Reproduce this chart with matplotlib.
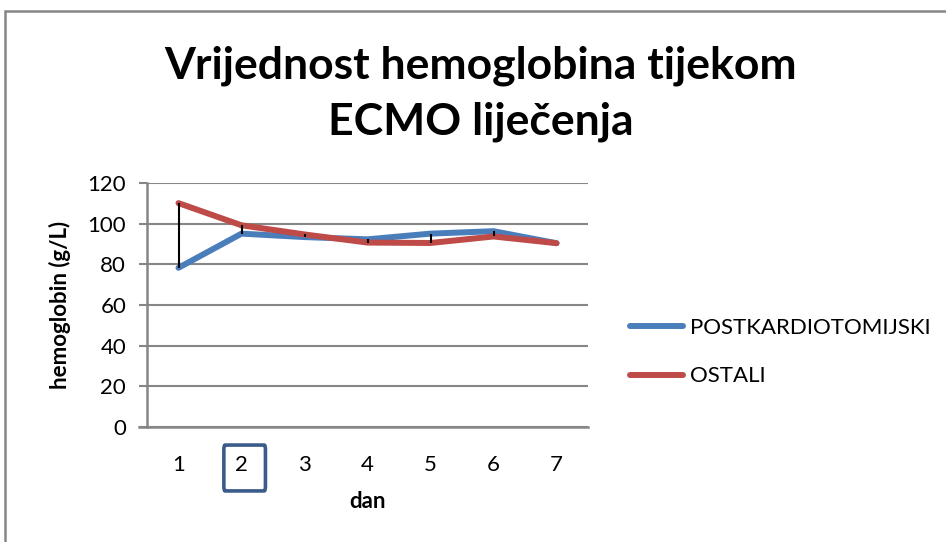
import matplotlib

matplotlib.use("Agg")
import matplotlib.pyplot as plt
from matplotlib.patches import FancyBboxPatch, Rectangle
import numpy as np

plt.rcParams["font.family"] = ["Lato", "DejaVu Sans"]

days = [1, 2, 3, 4, 5, 6, 7]
postkardio = [78.3, 95.1, 93.4, 92.3, 95.1, 96.3, 90.4]
ostali = [110.1, 99.2, 94.7, 90.7, 90.5, 93.7, 90.4]
yticks = [0, 20, 40, 60, 80, 100, 120]

blue = "#4a7ebb"
red = "#be4b48"
grid_col = "#868686"

fig = plt.figure(figsize=(9.46, 5.42), dpi=100)
ax = fig.add_axes([147 / 946, 1 - 427 / 542, 441 / 946, 244 / 542])

# chart frame (Excel chart area border)
fig.patches.append(Rectangle((5 / 946, -0.1), 1.2, 1 - 11 / 542 + 0.1,
                             transform=fig.transFigure, fill=False,
                             edgecolor=grid_col, lw=1.8))

ax.plot(days, postkardio, color=blue, lw=4.3, solid_capstyle="round",
        label="POSTKARDIOTOMIJSKI", zorder=3)
ax.plot(days, ostali, color=red, lw=4.3, solid_capstyle="round",
        label="OSTALI", zorder=3)

# high-low lines
lo = np.minimum(postkardio, ostali)
hi = np.maximum(postkardio, ostali)
ax.vlines(days, lo, hi, color="black", lw=1.5, zorder=4)

ax.set_xlim(0.5, 7.5)
ax.set_ylim(0, 120)
ax.set_yticks(yticks)
ax.set_xticks(days)
ax.set_xticklabels([str(d) for d in days])
ax.yaxis.grid(True, color=grid_col, lw=1.5)
ax.set_axisbelow(True)
for s in ["top", "right", "bottom"]:
    ax.spines[s].set_visible(False)
ax.spines["left"].set_color(grid_col)
ax.spines["left"].set_linewidth(1.8)
ax.tick_params(axis="y", length=6, width=1.5, color=grid_col, labelsize=16, pad=9)
ax.tick_params(axis="x", length=0, labelsize=16, pad=20)
ax.axhline(0, xmin=-8 / 441, xmax=1, color=grid_col, lw=1.8, clip_on=False)

ax.set_xlabel("dan", fontsize=16, fontweight="bold", labelpad=12)
ax.set_ylabel("hemoglobin (g/L)", fontsize=16, fontweight="bold", labelpad=12)

# highlighted tick "2"
box = FancyBboxPatch((1.72, -0.262), 0.66, 0.188, boxstyle="round,pad=0,rounding_size=0.02",
                     transform=ax.get_xaxis_transform(), clip_on=False,
                     fill=False, edgecolor="#3b5c8a", lw=2.6)
ax.add_patch(box)

fig.text(481 / 946, 1 - 94 / 542, "Vrijednost hemoglobina tijekom\nECMO liječenja",
         ha="center", va="center", fontsize=32, fontweight="bold", linespacing=1.48)

fig.legend(loc="center left", bbox_to_anchor=(610 / 946, 1 - 352 / 542), frameon=False,
           fontsize=16, handlelength=2.4, handletextpad=0.3, labelspacing=1.3)

fig.savefig("out.png", dpi=100)
